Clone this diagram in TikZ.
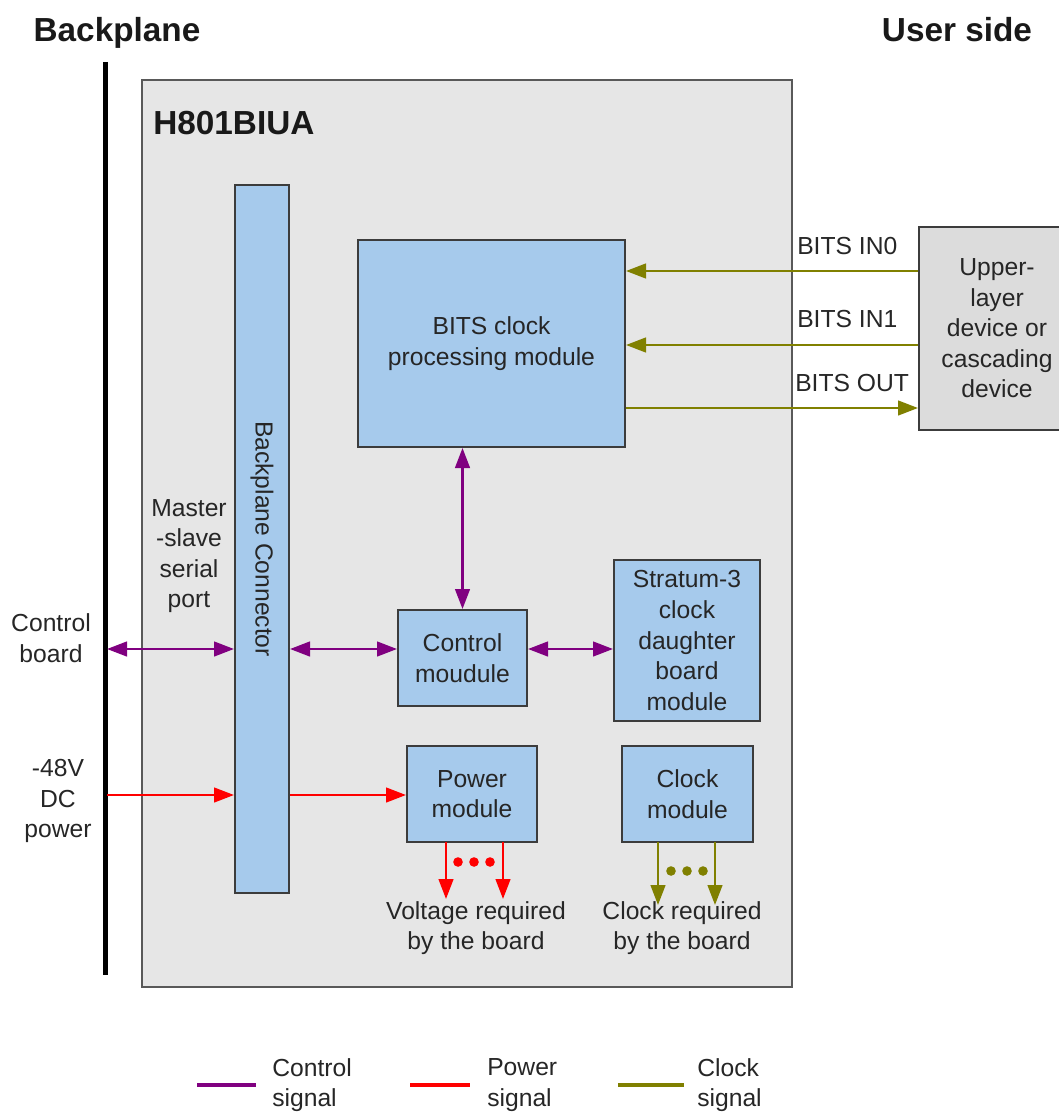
\documentclass[tikz,border=0pt]{standalone}
\usepackage{fontspec}
\setmainfont{Liberation Sans}
\usetikzlibrary{arrows.meta}
\definecolor{ctl}{RGB}{128,0,128}
\definecolor{pwr}{RGB}{255,0,0}
\definecolor{clk}{RGB}{128,128,0}
\definecolor{blu}{RGB}{166,202,236}
\definecolor{bgg}{RGB}{230,230,230}
\definecolor{upg}{RGB}{220,220,220}
\definecolor{txt}{RGB}{38,38,38}
\definecolor{edge}{RGB}{60,60,60}
\begin{document}
\begin{tikzpicture}[x=0.75pt,y=-0.75pt,
  font=\fontsize{18.5}{22.9}\selectfont, text=txt,
  box/.style={draw=edge, line width=1.5pt, fill=blu, align=center, inner sep=0pt},
  upbox/.style={draw=edge, line width=1.5pt, fill=upg, align=center, inner sep=0pt},
  mainbox/.style={draw=black!65, line width=1.8pt, fill=bgg, inner sep=0pt},
  lbl/.style={align=center, inner sep=0pt},
  ttl/.style={font=\fontsize{25}{30}\selectfont\bfseries, text=black!90, inner sep=0pt},
  sig/.style={line width=1.8pt},
  one/.style={sig, -{Triangle[length=15pt,width=11pt]}},
  two/.style={sig, {Triangle[length=15pt,width=11pt]}-{Triangle[length=15pt,width=11pt]}},
  leg/.style={line width=3pt}]
\useasboundingbox (0,0) rectangle (1058,1113);

% titles
\node[ttl] (tbp) at (117,33) {Backplane};
\node[ttl] (tus) at (957,30) {User side};

% backplane line
\coordinate (bptop) at (105,62);
\coordinate (bpbot) at (105,975);
\draw[line width=3.75pt, black] (bptop) -- (bpbot);

% main board
\node[mainbox, minimum width=487.5pt, minimum height=680.25pt] (main) at (467,533.5) {};
\node[ttl, anchor=west] (h801) at (153,123) {H801BIUA};

% modules
\node[box, minimum width=40.5pt, minimum height=531pt] (conn) at (262,539) {\rotatebox{-90}{Backplane Connector}};
\node[box, minimum width=200.25pt, minimum height=155.25pt] (bits) at (491.5,343.5) {BITS clock\\processing module};
\node[box, minimum width=96.75pt, minimum height=72pt] (ctrl) at (462.5,658) {Control\\moudule};
\node[box, minimum width=109.5pt, minimum height=120.75pt] (str) at (687,640.5) {Stratum-3\\clock\\daughter\\board\\module};
\node[box, minimum width=97.5pt, minimum height=72pt] (pm) at (472,794) {Power\\module};
\node[box, minimum width=98.25pt, minimum height=72pt] (cm) at (687.5,794) {Clock\\module};
\node[upbox, minimum width=117pt, minimum height=152.25pt] (up) at (997,328.5) {Upper-\\layer\\device or\\cascading\\device};

% side labels
\node[lbl] (lms) at (189,556) {Master\\-slave\\serial\\port};
\node[lbl] (lcb) at (51,638) {Control\\board};
\node[lbl] (l48) at (58,801) {-48V\\DC\\power};

% helper levels
\coordinate (y0) at (0,271);
\coordinate (y1) at (0,345);
\coordinate (y2) at (0,408);
\coordinate (yc) at (0,649);
\coordinate (yp) at (0,795);
\coordinate (cbp) at (107,649);
\coordinate (pbp) at (107,795);

% clock signals to/from upper device
\draw[one, clk] (up.west |- y0) -- (bits.east |- y0);
\draw[one, clk] (up.west |- y1) -- (bits.east |- y1);
\draw[one, clk] (bits.east |- y2) -- (up.west |- y2);
\node[lbl, anchor=west] (lin0) at (797,246) {BITS IN0};
\node[lbl, anchor=west] (lin1) at (797,319) {BITS IN1};
\node[lbl, anchor=west] (lout) at (795,383) {BITS OUT};

% control signals
\draw[two, ctl] (cbp) -- (conn.west |- yc);
\draw[two, ctl] (conn.east |- yc) -- (ctrl.west |- yc);
\draw[two, ctl] (ctrl.east |- yc) -- (str.west |- yc);
\draw[two, ctl] (ctrl.north) -- (ctrl.north |- bits.south);

% power signals
\draw[one, pwr] (pbp) -- (conn.west |- yp);
\draw[one, pwr] (conn.east |- yp) -- (pm.west |- yp);

% outputs of power module
\coordinate (pa) at (446,842);
\coordinate (pb) at (503,842);
\coordinate (pae) at (446,899);
\coordinate (pbe) at (503,899);
\draw[one, pwr] (pa) -- (pae);
\draw[one, pwr] (pb) -- (pbe);
\fill[pwr] (458,862) circle (3.6pt) (474,862) circle (3.6pt) (490,862) circle (3.6pt);
\node[lbl] (lvol) at (476,928) {Voltage required\\by the board};

% outputs of clock module
\coordinate (ca) at (658,842);
\coordinate (cb) at (715,842);
\coordinate (cae) at (658,905);
\coordinate (cbe) at (715,905);
\draw[one, clk] (ca) -- (cae);
\draw[one, clk] (cb) -- (cbe);
\fill[clk] (671,871) circle (3.6pt) (687,871) circle (3.6pt) (703,871) circle (3.6pt);
\node[lbl] (lclk) at (682,928) {Clock required\\by the board};

% legend
\coordinate (lg1a) at (197,1085);
\coordinate (lg1b) at (256,1085);
\coordinate (lg2a) at (410,1085);
\coordinate (lg2b) at (470,1085);
\coordinate (lg3a) at (618,1085);
\coordinate (lg3b) at (684,1085);
\draw[leg, ctl] (lg1a) -- (lg1b);
\draw[leg, pwr] (lg2a) -- (lg2b);
\draw[leg, clk] (lg3a) -- (lg3b);
\node[lbl, align=left, anchor=west] (lgt1) at (272,1085) {Control\\signal};
\node[lbl, align=left, anchor=west] (lgt2) at (487,1085) {Power\\signal};
\node[lbl, align=left, anchor=west] (lgt3) at (697,1085) {Clock\\signal};
\end{tikzpicture}
\end{document}
